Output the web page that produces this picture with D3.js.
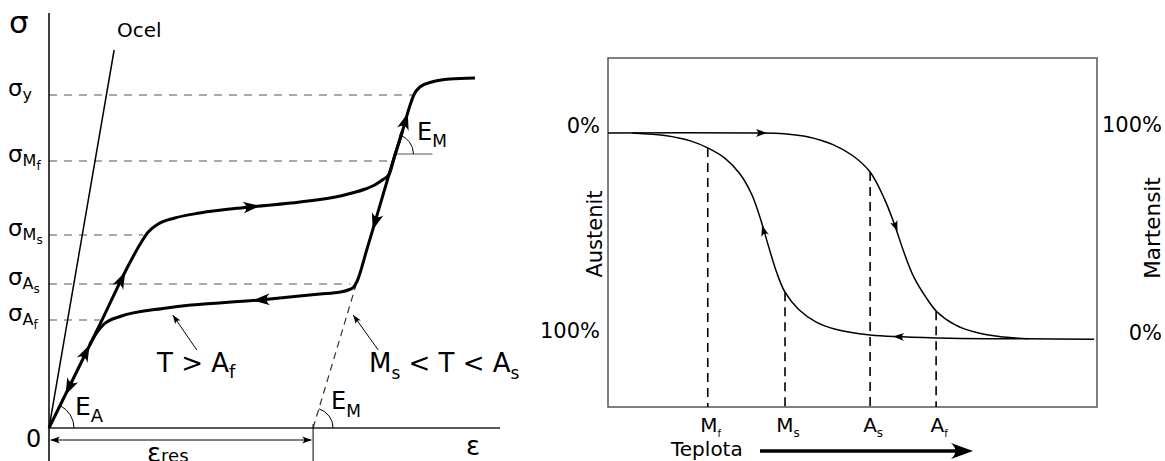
<!DOCTYPE html>
<html>
<head>
<meta charset="utf-8">
<script src="https://cdn.jsdelivr.net/npm/d3@7"></script>
<style>
  body { margin: 0; background: #fff; }
  text { font-family: "DejaVu Sans", sans-serif; fill: #000; }
</style>
</head>
<body>
<svg id="chart" width="1165" height="461"></svg>
<script>
// ---------- left diagram data (strain %, stress MPa) ----------
const loadingCurve = [[0,0],[1.02,208],[1.61,330],[1.82,368],[1.98,392],[2.18,408],[2.51,420],[3.01,430],[4.01,442],[5.01,452],[5.81,464],[6.31,478],[6.5,486],[6.65,496],[6.79,508],[6.88,538],[7.06,596],[7.2,644],[7.28,666],[7.4,682],[7.64,692],[8.0,698],[8.5,700]];
const unloadingCurve = [[0.81,166],[0.95,190],[1.1,208],[1.42,223],[2.35,240],[4.21,256],[5.41,268],[5.81,272],[5.97,276],[6.08,282],[6.15,294],[6.34,356],[6.91,548],[7.06,596]];
const steelLine = [[0,0],[1.30,756]];
const residualStrain = 5.27;
const martensiteElastic = [[5.27,0],[6.12,284]];
const stressLevels = [
  {name: "y", sub: "", sigma: 666, xEnd: 7.26},
  {name: "M", sub: "f", sigma: 534, xEnd: 6.77},
  {name: "M", sub: "s", sigma: 386, xEnd: 1.88},
  {name: "A", sub: "s", sigma: 288, xEnd: 6.01},
  {name: "A", sub: "f", sigma: 216, xEnd: 1.02}
];
const curveArrows = [
  {at: [0.81,166], from: [0.5,103]},
  {at: [0.33,66], from: [0.6,124]},
  {at: [1.52,312], from: [1.2,246]},
  {at: [4.21,444], from: [3.8,440]},
  {at: [7.16,630], from: [6.98,570]},
  {at: [6.46,396], from: [6.64,456]},
  {at: [4.07,255], from: [4.5,258]}
];
const pointerArrows = [
  {from: [2.95,156], to: [2.47,226]},
  {from: [6.57,156], to: [6.07,226]}
];

// ---------- right diagram data (temperature, martensite %) ----------
const heatingCurve = [[0,100],[30,100],[36,99.6],[41,98],[46,94.3],[50,89],[53.6,81],[56.5,68],[58.5,56],[60.5,42],[62.5,30],[65,20],[67.3,12.8],[71,6.5],[75,3],[80,0.8],[86,-0.3]];
const coolingCurve = [[5,100],[12,98.6],[17,96],[20.4,92.7],[24,87.5],[27,80],[29.4,70],[31.2,58],[32.8,45],[34.5,32],[36.2,22.4],[39,14],[42.5,8],[46.5,4.4],[53.6,1.6],[60,0.7],[70,0],[86,-0.3],[99.4,-0.5]];
const transitions = [
  {name: "M", sub: "f", T: 20.4, frac: 92.7},
  {name: "M", sub: "s", T: 36.2, frac: 22.4},
  {name: "A", sub: "s", T: 53.6, frac: 81},
  {name: "A", sub: "f", T: 67.1, frac: 13.2}
];
const heatArrows = [
  {at: [32.5,100], from: [28,100]},
  {at: [59.2,52], from: [57.6,62]}
];
const coolArrows = [
  {at: [58.3,0.8], from: [63,0.5]},
  {at: [31.5,55], from: [32.5,47]}
];

const svg = d3.select("#chart");

function arrowHead(g, tip, from, len, hw) {
  const ang = Math.atan2(tip[1] - from[1], tip[0] - from[0]) * 180 / Math.PI;
  g.append("path")
    .attr("d", `M0,0 L${-len},${-hw} Q${-len * 0.6},0 ${-len},${hw} Z`)
    .attr("transform", `translate(${tip[0]},${tip[1]}) rotate(${ang})`)
    .attr("fill", "#000");
}

// ================= LEFT =================
const x = d3.scaleLinear().domain([0, 9]).range([49, 500]);
const y = d3.scaleLinear().domain([0, 800]).range([428, 28]);
const L = svg.append("g");
const P = d => [x(d[0]), y(d[1])];

// dashed stress levels
stressLevels.forEach(s => {
  L.append("line")
    .attr("x1", x(0)).attr("x2", x(s.xEnd))
    .attr("y1", y(s.sigma)).attr("y2", y(s.sigma))
    .attr("stroke", "#555").attr("stroke-width", 1.2)
    .attr("stroke-dasharray", "8,7");
  const t = L.append("text").attr("x", 8).attr("y", y(s.sigma) + 1);
  t.append("tspan").attr("font-size", 23).text("σ");
  t.append("tspan").attr("font-size", 16).attr("dy", 4).text(s.name);
  if (s.sub) t.append("tspan").attr("font-size", 12).attr("dy", 4).text(s.sub);
});

// axes
L.append("line").attr("x1", x(0)).attr("x2", x(0)).attr("y1", 13).attr("y2", 461)
  .attr("stroke", "#000").attr("stroke-width", 1.5);
L.append("line").attr("x1", x(0)).attr("x2", 500).attr("y1", y(0)).attr("y2", y(0))
  .attr("stroke", "#222").attr("stroke-width", 1.5);
L.append("text").attr("x", 9).attr("y", 33).attr("font-size", 31).text("σ");
L.append("text").attr("x", 466).attr("y", 455).attr("font-size", 26).text("ε");
L.append("text").attr("x", 26).attr("y", 447).attr("font-size", 24).text("0");

// steel line
L.append("path").attr("d", d3.line()(steelLine.map(P)))
  .attr("stroke", "#000").attr("stroke-width", 1.5).attr("fill", "none");
L.append("text").attr("x", 117).attr("y", 37).attr("font-size", 20).text("Ocel");

// martensite elastic dashed
L.append("path").attr("d", d3.line()(martensiteElastic.map(P)))
  .attr("stroke", "#333").attr("stroke-width", 1.2).attr("stroke-dasharray", "7,5").attr("fill", "none");

// residual strain dimension
const xr = x(residualStrain);
L.append("line").attr("x1", xr).attr("x2", xr).attr("y1", y(0) - 4).attr("y2", 461)
  .attr("stroke", "#000").attr("stroke-width", 1);
L.append("line").attr("x1", x(0) + 2).attr("x2", xr - 2).attr("y1", 440).attr("y2", 440)
  .attr("stroke", "#000").attr("stroke-width", 1);
arrowHead(L, [x(0) + 1, 440], [x(0) + 20, 440], 10, 3.5);
arrowHead(L, [xr - 1, 440], [xr - 20, 440], 10, 3.5);
const er = L.append("text").attr("x", 147).attr("y", 462);
er.append("tspan").attr("font-size", 26).text("ε");
er.append("tspan").attr("font-size", 18).text("res");

// angle arcs
function angleArc(cx, cy, r, theta) {
  L.append("path")
    .attr("d", `M${cx + r},${cy} A${r},${r} 0 0 0 ${cx + r * Math.cos(theta)},${cy - r * Math.sin(theta)}`)
    .attr("fill", "none").attr("stroke", "#000").attr("stroke-width", 1);
}
const thA = Math.atan2(y(0) - y(208), x(1.02) - x(0));
angleArc(x(0), y(0), 25, thA);
const thM = Math.atan2(y(0) - y(284), x(6.12) - x(5.27));
angleArc(xr, y(0), 20, thM);
const refX = x(residualStrain + 0.003 * 548) - 2, refY = y(548);
L.append("line").attr("x1", refX).attr("x2", refX + 39).attr("y1", refY).attr("y2", refY)
  .attr("stroke", "#555").attr("stroke-width", 1.2);
angleArc(refX, refY, 20, thM);

function subLabel(g, px, py, main, sub, size, subSize, dy) {
  const t = g.append("text").attr("x", px).attr("y", py);
  t.append("tspan").attr("font-size", size).text(main);
  t.append("tspan").attr("font-size", subSize).attr("dy", dy).text(sub);
  return t;
}
subLabel(L, 75, 415, "E", "A", 25, 18, 7);
subLabel(L, 331, 409, "E", "M", 24, 17, 8);
subLabel(L, 417, 140, "E", "M", 24, 17, 7);

// main curves
const curve = d3.line().curve(d3.curveMonotoneX);
L.append("path").attr("d", curve(loadingCurve.map(P)))
  .attr("stroke", "#000").attr("stroke-width", 3).attr("fill", "none").attr("stroke-linejoin", "round");
L.append("path").attr("d", curve(unloadingCurve.map(P)))
  .attr("stroke", "#000").attr("stroke-width", 3).attr("fill", "none").attr("stroke-linejoin", "round");
curveArrows.forEach(a => arrowHead(L, P(a.at), P(a.from), 17, 6));

// pointer annotations
pointerArrows.forEach(a => {
  L.append("line").attr("x1", x(a.from[0])).attr("y1", y(a.from[1]))
    .attr("x2", x(a.to[0])).attr("y2", y(a.to[1]))
    .attr("stroke", "#000").attr("stroke-width", 1);
  arrowHead(L, P(a.to), P(a.from), 9, 3.2);
});
const t1 = L.append("text").attr("x", 157).attr("y", 372);
t1.append("tspan").attr("font-size", 26).text("T > A");
t1.append("tspan").attr("font-size", 18).attr("dy", 6).text("f");
const t2 = L.append("text").attr("x", 369).attr("y", 372);
t2.append("tspan").attr("font-size", 26).text("M");
t2.append("tspan").attr("font-size", 17).attr("dy", 7).text("s");
t2.append("tspan").attr("font-size", 26).attr("dy", -7).text(" < T < A");
t2.append("tspan").attr("font-size", 17).attr("dy", 7).text("s");

// ================= RIGHT =================
const tx = d3.scaleLinear().domain([0, 100]).range([608, 1097]);
const fy = d3.scaleLinear().domain([-33.5, 136.5]).range([407, 58]);
const R = svg.append("g");
const Q = d => [tx(d[0]), fy(d[1])];
const smooth = d3.line().curve(d3.curveCatmullRom.alpha(0.5));

R.append("rect").attr("x", tx(0)).attr("y", fy(136.5))
  .attr("width", tx(100) - tx(0)).attr("height", fy(-33.5) - fy(136.5))
  .attr("fill", "none").attr("stroke", "#555").attr("stroke-width", 1.5);

transitions.forEach(d => {
  R.append("line").attr("x1", tx(d.T)).attr("x2", tx(d.T))
    .attr("y1", fy(d.frac)).attr("y2", fy(-33.5))
    .attr("stroke", "#000").attr("stroke-width", 1.6).attr("stroke-dasharray", "9,6");
  const t = R.append("text").attr("x", tx(d.T) + 3).attr("y", 432).attr("text-anchor", "middle");
  t.append("tspan").attr("font-size", 20).text(d.name);
  t.append("tspan").attr("font-size", d.sub === "f" ? 10 : 12).attr("dy", 5).text(d.sub);
});

R.append("path").attr("d", smooth(heatingCurve.map(Q)))
  .attr("stroke", "#000").attr("stroke-width", 1.5).attr("fill", "none");
R.append("path").attr("d", smooth(coolingCurve.map(Q)))
  .attr("stroke", "#000").attr("stroke-width", 1.5).attr("fill", "none");
heatArrows.concat(coolArrows).forEach(a => arrowHead(R, Q(a.at), Q(a.from), 11, 4));

R.append("text").attr("x", 600).attr("y", fy(100)).attr("font-size", 21).attr("text-anchor", "end").text("0%");
R.append("text").attr("x", 600).attr("y", fy(0)).attr("font-size", 21).attr("text-anchor", "end").text("100%");
R.append("text").attr("x", 1162).attr("y", fy(100) - 1).attr("font-size", 21).attr("text-anchor", "end").text("100%");
R.append("text").attr("x", 1162).attr("y", fy(0) + 2).attr("font-size", 21).attr("text-anchor", "end").text("0%");

R.append("text").attr("transform", "translate(602,234) rotate(-90)")
  .attr("font-size", 21).attr("text-anchor", "middle").text("Austenit");
R.append("text").attr("transform", "translate(1160,228) rotate(-90)")
  .attr("font-size", 21.5).attr("text-anchor", "middle").text("Martensit");

R.append("text").attr("x", 671).attr("y", 456).attr("font-size", 20).text("Teplota");
R.append("line").attr("x1", 760).attr("x2", 960).attr("y1", 451).attr("y2", 451)
  .attr("stroke", "#000").attr("stroke-width", 3.5);
arrowHead(R, [973, 451], [950, 451], 22, 8);
</script>
</body>
</html>
